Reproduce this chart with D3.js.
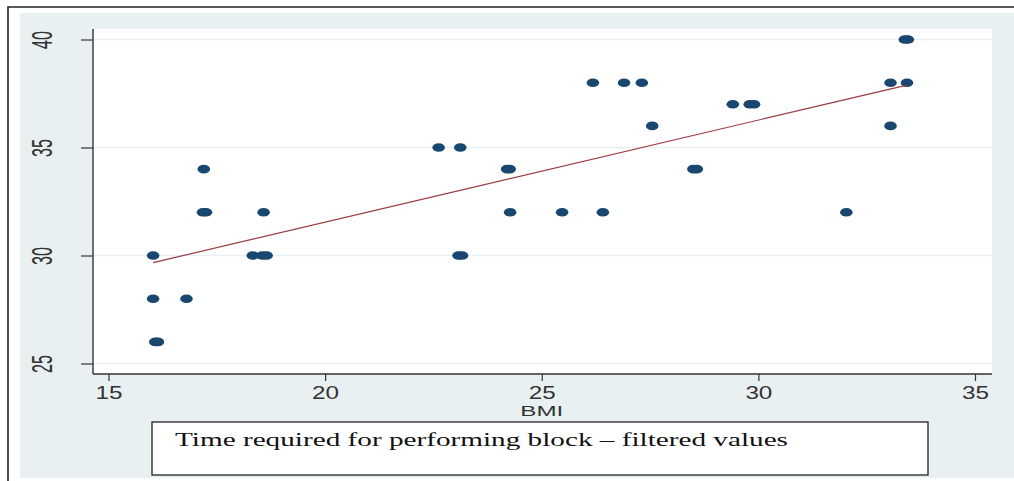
<!DOCTYPE html>
<html>
<head>
<meta charset="utf-8">
<script src="https://cdn.jsdelivr.net/npm/d3@7"></script>
<style>
  html, body { margin: 0; padding: 0; background: #fff; }
  svg { display: block; }
</style>
</head>
<body>
<svg id="chart" width="1014" height="481"></svg>
<script>
// values
const bmi  = [16.03, 16.03, 16.08, 16.14, 16.8, 17.2, 17.18, 17.25, 18.33, 18.55, 18.65, 18.58,
              22.62, 23.12, 23.08, 23.16, 24.2, 24.26, 24.27, 25.47, 26.18, 26.41, 26.9, 27.31,
              27.55, 28.5, 28.58, 29.41, 29.8, 29.9, 32.03, 33.05, 33.05, 33.38, 33.45, 33.43];
const time = [30, 28, 26, 26, 28, 34, 32, 32, 30, 30, 30, 32,
              35, 35, 30, 30, 34, 34, 32, 32, 38, 32, 38, 38,
              36, 34, 34, 37, 37, 37, 32, 38, 36, 40, 40, 38];
// fitted line endpoints (as drawn)
const fitX = [16.03, 33.43];
const fitY = [29.67, 37.89];
const xTicks = [15, 20, 25, 30, 35];
const yTicks = [25, 30, 35, 40];
const xTitle = "BMI";
const legendText = "Time required for performing block \u2013 filtered values";

const svg = d3.select("#chart");
const plot = { left: 93, top: 29, width: 899, height: 345 };

// outer frame + stata background
svg.append("rect").attr("x", 20).attr("y", 13).attr("width", 1000).attr("height", 465)
  .attr("fill", "#e9f0f2");
svg.append("path").attr("d", "M8,481 V7 H1014")
  .attr("fill", "none").attr("stroke", "#222").attr("stroke-width", 1.6);

const g = svg.append("g").attr("transform", `translate(${plot.left},${plot.top})`);
g.append("rect").attr("width", plot.width).attr("height", plot.height).attr("fill", "#fff");

const x = d3.scaleLinear().domain([15, 35]).range([15.5, 882]);
const y = d3.scaleLinear().domain([25, 40]).range([334.5, 10.5]);

// gridlines
g.selectAll(".grid").data(yTicks).enter().append("line")
  .attr("class", "grid")
  .attr("x1", 0).attr("x2", plot.width)
  .attr("y1", d => y(d)).attr("y2", d => y(d))
  .attr("stroke", "#e6eff1").attr("stroke-width", 1.3);

// y axis
const yAxisG = g.append("g")
  .call(d3.axisLeft(y).tickValues(yTicks).tickSize(12).tickPadding(0));
yAxisG.select(".domain").remove();
yAxisG.selectAll(".tick line").attr("stroke", "#333").attr("stroke-width", 1.2);
yAxisG.selectAll(".tick text")
  .attr("x", 0).attr("dy", null)
  .attr("transform", "translate(-41,0) rotate(-90)")
  .attr("text-anchor", "middle")
  .attr("textLength", 18).attr("lengthAdjust", "spacingAndGlyphs")
  .style("font-family", "Liberation Sans, Arial, sans-serif")
  .style("font-size", "30px")
  .attr("fill", "#333");

// x axis
const xAxisG = g.append("g")
  .attr("transform", `translate(0,${plot.height})`)
  .call(d3.axisBottom(x).tickValues(xTicks).tickSize(7));
xAxisG.select(".domain").remove();
xAxisG.selectAll(".tick line").attr("stroke", "#333").attr("stroke-width", 1.2);
xAxisG.selectAll(".tick text")
  .attr("y", 25).attr("dy", null)
  .attr("textLength", 27).attr("lengthAdjust", "spacingAndGlyphs")
  .style("font-family", "Liberation Sans, Arial, sans-serif")
  .style("font-size", "18px")
  .attr("fill", "#333");

// axis lines
g.append("line").attr("x1", 0).attr("x2", 0).attr("y1", 0).attr("y2", plot.height)
  .attr("stroke", "#333").attr("stroke-width", 1.4);
g.append("line").attr("x1", 0).attr("x2", plot.width).attr("y1", plot.height).attr("y2", plot.height)
  .attr("stroke", "#333").attr("stroke-width", 1.4);

// x title
g.append("text")
  .attr("x", x(25)).attr("y", plot.height + 42)
  .attr("text-anchor", "middle")
  .attr("textLength", 43).attr("lengthAdjust", "spacingAndGlyphs")
  .style("font-family", "Liberation Sans, Arial, sans-serif")
  .style("font-size", "15px")
  .attr("fill", "#333")
  .text(xTitle);

// points
g.selectAll(".dot").data(d3.zip(bmi, time)).enter().append("ellipse")
  .attr("class", "dot")
  .attr("cx", d => x(d[0])).attr("cy", d => y(d[1]))
  .attr("rx", 6.3).attr("ry", 4.3)
  .attr("fill", "#1a476f");

// fitted line
g.append("path")
  .datum(d3.zip(fitX, fitY))
  .attr("d", d3.line().x(d => x(d[0])).y(d => y(d[1])))
  .attr("fill", "none").attr("stroke", "#9a3a40").attr("stroke-width", 1.2);

// legend box
svg.append("rect").attr("x", 152).attr("y", 422).attr("width", 776).attr("height", 53)
  .attr("fill", "#fff").attr("stroke", "#222").attr("stroke-width", 1.3);
svg.append("text")
  .attr("x", 175).attr("y", 446)
  .attr("textLength", 613).attr("lengthAdjust", "spacingAndGlyphs")
  .style("font-family", "Liberation Serif, Times New Roman, serif")
  .style("font-size", "19px")
  .attr("fill", "#111")
  .text(legendText);
</script>
</body>
</html>
